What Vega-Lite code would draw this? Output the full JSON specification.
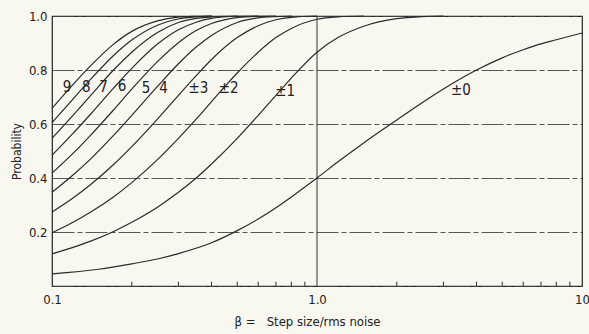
{
  "$schema": "https://vega.github.io/schema/vega-lite/v6.json",
  "width": 530,
  "height": 270,
  "autosize": {"type": "none"},
  "padding": {"left": 52, "top": 16, "right": 7, "bottom": 48},
  "background": "#f8f7f0",
  "config": {
    "view": {"stroke": "#222", "strokeWidth": 1.2},
    "font": "DejaVu Sans Condensed, Liberation Sans Narrow, Roboto, sans-serif"
  },
  "datasets": {
    "vline": [{"beta": 1}],
    "ticks": [
      {"beta": 0.2}, {"beta": 0.3}, {"beta": 0.4}, {"beta": 0.5}, {"beta": 0.6}, {"beta": 0.7}, {"beta": 0.8}, {"beta": 0.9},
      {"beta": 2}, {"beta": 3}, {"beta": 4}, {"beta": 5}, {"beta": 6}, {"beta": 7}, {"beta": 8}, {"beta": 9}
    ],
    "curves": [
      {"curve": "±0", "beta": 0.1, "p": 0.045},
      {"curve": "±0", "beta": 0.15, "p": 0.062},
      {"curve": "±0", "beta": 0.2, "p": 0.082},
      {"curve": "±0", "beta": 0.25, "p": 0.1},
      {"curve": "±0", "beta": 0.3, "p": 0.12},
      {"curve": "±0", "beta": 0.4, "p": 0.16},
      {"curve": "±0", "beta": 0.5, "p": 0.205},
      {"curve": "±0", "beta": 0.6, "p": 0.248},
      {"curve": "±0", "beta": 0.7, "p": 0.29},
      {"curve": "±0", "beta": 0.8, "p": 0.33},
      {"curve": "±0", "beta": 1.0, "p": 0.4},
      {"curve": "±0", "beta": 1.2, "p": 0.46},
      {"curve": "±0", "beta": 1.5, "p": 0.53},
      {"curve": "±0", "beta": 2.0, "p": 0.615},
      {"curve": "±0", "beta": 2.5, "p": 0.68},
      {"curve": "±0", "beta": 3.0, "p": 0.73},
      {"curve": "±0", "beta": 4.0, "p": 0.8},
      {"curve": "±0", "beta": 5.0, "p": 0.845},
      {"curve": "±0", "beta": 6.0, "p": 0.875},
      {"curve": "±0", "beta": 7.0, "p": 0.897},
      {"curve": "±0", "beta": 8.0, "p": 0.912},
      {"curve": "±0", "beta": 10.0, "p": 0.937},

      {"curve": "±1", "beta": 0.1, "p": 0.119},
      {"curve": "±1", "beta": 0.12, "p": 0.143},
      {"curve": "±1", "beta": 0.14, "p": 0.166},
      {"curve": "±1", "beta": 0.17, "p": 0.201},
      {"curve": "±1", "beta": 0.2, "p": 0.236},
      {"curve": "±1", "beta": 0.25, "p": 0.292},
      {"curve": "±1", "beta": 0.3, "p": 0.347},
      {"curve": "±1", "beta": 0.35, "p": 0.4},
      {"curve": "±1", "beta": 0.4, "p": 0.452},
      {"curve": "±1", "beta": 0.5, "p": 0.547},
      {"curve": "±1", "beta": 0.6, "p": 0.632},
      {"curve": "±1", "beta": 0.7, "p": 0.706},
      {"curve": "±1", "beta": 0.8, "p": 0.77},
      {"curve": "±1", "beta": 1.0, "p": 0.866},
      {"curve": "±1", "beta": 1.2, "p": 0.92},
      {"curve": "±1", "beta": 1.5, "p": 0.962},
      {"curve": "±1", "beta": 2.0, "p": 0.99},
      {"curve": "±1", "beta": 2.5, "p": 0.998},
      {"curve": "±1", "beta": 3.0, "p": 1.0},

      {"curve": "±2", "beta": 0.1, "p": 0.197},
      {"curve": "±2", "beta": 0.12, "p": 0.236},
      {"curve": "±2", "beta": 0.14, "p": 0.274},
      {"curve": "±2", "beta": 0.17, "p": 0.329},
      {"curve": "±2", "beta": 0.2, "p": 0.383},
      {"curve": "±2", "beta": 0.25, "p": 0.468},
      {"curve": "±2", "beta": 0.3, "p": 0.547},
      {"curve": "±2", "beta": 0.35, "p": 0.618},
      {"curve": "±2", "beta": 0.4, "p": 0.683},
      {"curve": "±2", "beta": 0.5, "p": 0.789},
      {"curve": "±2", "beta": 0.6, "p": 0.866},
      {"curve": "±2", "beta": 0.7, "p": 0.92},
      {"curve": "±2", "beta": 0.8, "p": 0.954},
      {"curve": "±2", "beta": 1.0, "p": 0.988},
      {"curve": "±2", "beta": 1.2, "p": 0.997},
      {"curve": "±2", "beta": 1.5, "p": 1.0},

      {"curve": "±3", "beta": 0.1, "p": 0.274},
      {"curve": "±3", "beta": 0.12, "p": 0.326},
      {"curve": "±3", "beta": 0.14, "p": 0.376},
      {"curve": "±3", "beta": 0.17, "p": 0.448},
      {"curve": "±3", "beta": 0.2, "p": 0.516},
      {"curve": "±3", "beta": 0.25, "p": 0.618},
      {"curve": "±3", "beta": 0.3, "p": 0.706},
      {"curve": "±3", "beta": 0.35, "p": 0.779},
      {"curve": "±3", "beta": 0.4, "p": 0.839},
      {"curve": "±3", "beta": 0.5, "p": 0.92},
      {"curve": "±3", "beta": 0.6, "p": 0.964},
      {"curve": "±3", "beta": 0.7, "p": 0.986},
      {"curve": "±3", "beta": 0.8, "p": 0.995},
      {"curve": "±3", "beta": 1.0, "p": 1.0},

      {"curve": "4", "beta": 0.1, "p": 0.347},
      {"curve": "4", "beta": 0.12, "p": 0.411},
      {"curve": "4", "beta": 0.14, "p": 0.471},
      {"curve": "4", "beta": 0.17, "p": 0.556},
      {"curve": "4", "beta": 0.2, "p": 0.632},
      {"curve": "4", "beta": 0.25, "p": 0.739},
      {"curve": "4", "beta": 0.3, "p": 0.823},
      {"curve": "4", "beta": 0.35, "p": 0.885},
      {"curve": "4", "beta": 0.4, "p": 0.928},
      {"curve": "4", "beta": 0.5, "p": 0.976},
      {"curve": "4", "beta": 0.6, "p": 0.993},
      {"curve": "4", "beta": 0.7, "p": 0.998},
      {"curve": "4", "beta": 0.8, "p": 1.0},

      {"curve": "5", "beta": 0.1, "p": 0.418},
      {"curve": "5", "beta": 0.12, "p": 0.491},
      {"curve": "5", "beta": 0.14, "p": 0.559},
      {"curve": "5", "beta": 0.17, "p": 0.65},
      {"curve": "5", "beta": 0.2, "p": 0.729},
      {"curve": "5", "beta": 0.25, "p": 0.831},
      {"curve": "5", "beta": 0.3, "p": 0.901},
      {"curve": "5", "beta": 0.35, "p": 0.946},
      {"curve": "5", "beta": 0.4, "p": 0.972},
      {"curve": "5", "beta": 0.5, "p": 0.994},
      {"curve": "5", "beta": 0.6, "p": 0.999},
      {"curve": "5", "beta": 0.7, "p": 1.0},

      {"curve": "6", "beta": 0.1, "p": 0.484},
      {"curve": "6", "beta": 0.12, "p": 0.565},
      {"curve": "6", "beta": 0.14, "p": 0.637},
      {"curve": "6", "beta": 0.17, "p": 0.731},
      {"curve": "6", "beta": 0.2, "p": 0.806},
      {"curve": "6", "beta": 0.25, "p": 0.896},
      {"curve": "6", "beta": 0.3, "p": 0.949},
      {"curve": "6", "beta": 0.35, "p": 0.977},
      {"curve": "6", "beta": 0.4, "p": 0.991},
      {"curve": "6", "beta": 0.5, "p": 0.999},
      {"curve": "6", "beta": 0.6, "p": 1.0},

      {"curve": "7", "beta": 0.1, "p": 0.547},
      {"curve": "7", "beta": 0.12, "p": 0.632},
      {"curve": "7", "beta": 0.14, "p": 0.706},
      {"curve": "7", "beta": 0.17, "p": 0.798},
      {"curve": "7", "beta": 0.2, "p": 0.866},
      {"curve": "7", "beta": 0.25, "p": 0.939},
      {"curve": "7", "beta": 0.3, "p": 0.976},
      {"curve": "7", "beta": 0.35, "p": 0.991},
      {"curve": "7", "beta": 0.4, "p": 0.997},
      {"curve": "7", "beta": 0.5, "p": 1.0},

      {"curve": "8", "beta": 0.1, "p": 0.605},
      {"curve": "8", "beta": 0.12, "p": 0.692},
      {"curve": "8", "beta": 0.14, "p": 0.766},
      {"curve": "8", "beta": 0.17, "p": 0.852},
      {"curve": "8", "beta": 0.2, "p": 0.911},
      {"curve": "8", "beta": 0.25, "p": 0.966},
      {"curve": "8", "beta": 0.3, "p": 0.989},
      {"curve": "8", "beta": 0.35, "p": 0.997},
      {"curve": "8", "beta": 0.4, "p": 1.0},

      {"curve": "9", "beta": 0.1, "p": 0.658},
      {"curve": "9", "beta": 0.12, "p": 0.746},
      {"curve": "9", "beta": 0.14, "p": 0.816},
      {"curve": "9", "beta": 0.17, "p": 0.894},
      {"curve": "9", "beta": 0.2, "p": 0.943},
      {"curve": "9", "beta": 0.25, "p": 0.982},
      {"curve": "9", "beta": 0.3, "p": 0.996},
      {"curve": "9", "beta": 0.35, "p": 0.999},
      {"curve": "9", "beta": 0.4, "p": 1.0}
    ],
    "labels": [
      {"label": "9", "beta": 0.114, "p": 0.736},
      {"label": "8", "beta": 0.1346, "p": 0.736},
      {"label": "7", "beta": 0.1566, "p": 0.736},
      {"label": "6", "beta": 0.1837, "p": 0.74},
      {"label": "5", "beta": 0.2264, "p": 0.733},
      {"label": "4", "beta": 0.2636, "p": 0.733},
      {"label": "±3", "beta": 0.357, "p": 0.733},
      {"label": "±2", "beta": 0.464, "p": 0.733},
      {"label": "±1", "beta": 0.759, "p": 0.723},
      {"label": "±0", "beta": 3.49, "p": 0.726}
    ]
  },
  "encoding": {
    "x": {
      "field": "beta",
      "type": "quantitative",
      "scale": {"type": "log", "domain": [0.1, 10]},
      "axis": {
        "values": [0.1, 1, 10],
        "labelExpr": "datum.value == 0.1 ? '0.1' : datum.value == 1 ? '1.0' : datum.value == 10 ? '10' : ''",
        "ticks": false,
        "labelPadding": 7,
        "labelFlush": false,
        "labelOverlap": false,
        "labelFontSize": 13,
        "labelColor": "#222",
        "grid": false,
        "domain": false,
        "title": "β =\u00a0\u00a0 Step size/rms noise",
        "titleFontSize": 13,
        "titleFontWeight": "normal",
        "titleColor": "#222",
        "titleX": 255,
        "titleY": 29,
        "titleAlign": "center",
        "titleBaseline": "top"
      }
    }
  },
  "layer": [
    {
      "data": {"name": "vline"},
      "mark": {"type": "rule", "color": "#333", "strokeWidth": 1}
    },
    {
      "data": {"name": "ticks"},
      "mark": {"type": "rule", "color": "#333", "strokeWidth": 1},
      "encoding": {
        "y": {
          "datum": 0,
          "type": "quantitative",
          "scale": {"domain": [0, 1]},
          "axis": {
            "values": [0, 0.2, 0.4, 0.6, 0.8, 1],
            "labelExpr": "datum.value == 0 ? '' : format(datum.value, '.1f')",
            "ticks": false,
            "domain": false,
            "grid": true,
            "gridColor": "#444",
            "gridWidth": 0.9,
            "gridDash": [22, 3, 5, 3],
            "labelPadding": 5,
            "labelFontSize": 13,
            "labelColor": "#222",
            "title": "Probability",
            "titleFontSize": 12,
            "titleFontWeight": "normal",
            "titleColor": "#222",
            "titleX": -36,
            "titleY": 135,
            "titleAlign": "center",
            "titleBaseline": "middle"
          }
        },
        "y2": {"datum": 0.016}
      }
    },
    {
      "data": {"name": "curves"},
      "mark": {"type": "line", "interpolate": "monotone", "color": "#2b2b2b", "strokeWidth": 1.2},
      "encoding": {
        "y": {
          "field": "p",
          "type": "quantitative",
          "scale": {"domain": [0, 1]},
          "axis": {
            "values": [0, 0.2, 0.4, 0.6, 0.8, 1],
            "labelExpr": "datum.value == 0 ? '' : format(datum.value, '.1f')",
            "ticks": false,
            "domain": false,
            "grid": true,
            "gridColor": "#444",
            "gridWidth": 0.9,
            "gridDash": [22, 3, 5, 3],
            "labelPadding": 5,
            "labelFontSize": 13,
            "labelColor": "#222",
            "title": "Probability",
            "titleFontSize": 12,
            "titleFontWeight": "normal",
            "titleColor": "#222",
            "titleX": -36,
            "titleY": 135,
            "titleAlign": "center",
            "titleBaseline": "middle"
          }
        },
        "detail": {"field": "curve"}
      }
    },
    {
      "data": {"name": "labels"},
      "mark": {"type": "text", "fontSize": 15, "color": "#222", "align": "center", "baseline": "middle"},
      "encoding": {
        "y": {
          "field": "p",
          "type": "quantitative",
          "scale": {"domain": [0, 1]},
          "axis": {
            "values": [0, 0.2, 0.4, 0.6, 0.8, 1],
            "labelExpr": "datum.value == 0 ? '' : format(datum.value, '.1f')",
            "ticks": false,
            "domain": false,
            "grid": true,
            "gridColor": "#444",
            "gridWidth": 0.9,
            "gridDash": [22, 3, 5, 3],
            "labelPadding": 5,
            "labelFontSize": 13,
            "labelColor": "#222",
            "title": "Probability",
            "titleFontSize": 12,
            "titleFontWeight": "normal",
            "titleColor": "#222",
            "titleX": -36,
            "titleY": 135,
            "titleAlign": "center",
            "titleBaseline": "middle"
          }
        },
        "text": {"field": "label"}
      }
    }
  ]
}
